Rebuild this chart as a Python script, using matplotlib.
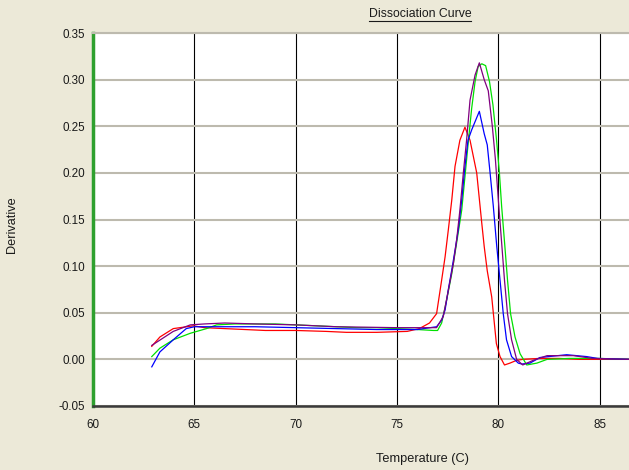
import matplotlib
matplotlib.use("Agg")
import matplotlib.pyplot as plt
from matplotlib.lines import Line2D

# Melt-curve derivative readings (temperature in C, derivative)
red_t = [62.9, 63.3, 63.96, 64.95, 65.5, 66.5, 67.5, 68.5, 70.0, 71.5, 72.5, 74.0, 75.5, 76.1, 76.6,
         76.95, 77.2, 77.37, 77.53, 77.7, 77.86, 78.1, 78.35, 78.6, 78.93, 79.18, 79.3, 79.45, 79.67, 79.9,
         80.08, 80.3, 80.57, 80.9, 81.2, 82.0, 83.0, 84.0, 85.0, 86.5]
red_d = [0.014, 0.024, 0.033, 0.036, 0.034, 0.033, 0.032, 0.031, 0.031, 0.030, 0.029, 0.029, 0.030, 0.033, 0.039,
         0.049, 0.085, 0.110, 0.139, 0.171, 0.207, 0.235, 0.249, 0.235, 0.200, 0.146, 0.121, 0.095, 0.067, 0.017,
         0.003, -0.006, -0.004, -0.001, 0.000, 0.001, 0.001, 0.000, 0.000, 0.000]

green_t = [62.9, 63.3, 63.96, 64.8, 65.6, 66.1, 67.0, 68.0, 69.0, 70.0, 71.0, 72.0, 73.0, 74.0, 75.0,
           76.0, 76.8, 77.0, 77.2, 77.45, 77.7, 77.94, 78.19, 78.35, 78.51, 78.68, 78.85, 79.0, 79.18, 79.37,
           79.56, 79.73, 79.9, 80.05, 80.16, 80.32, 80.45, 80.6, 80.82, 81.07, 81.4, 81.9, 82.4, 83.5, 85.0, 86.5]
green_d = [0.003, 0.012, 0.021, 0.028, 0.033, 0.037, 0.038, 0.038, 0.038, 0.037, 0.036, 0.035, 0.034, 0.034, 0.033,
           0.032, 0.031, 0.031, 0.039, 0.064, 0.092, 0.125, 0.160, 0.196, 0.232, 0.269, 0.298, 0.314, 0.317, 0.315,
           0.298, 0.273, 0.237, 0.200, 0.164, 0.121, 0.085, 0.049, 0.024, 0.006, -0.006, -0.004, 0.000, 0.001, 0.001, 0.000]

blue_t = [62.9, 63.3, 63.96, 64.6, 65.0, 66.0, 67.0, 68.0, 70.0, 72.0, 74.0, 76.0, 76.95, 77.2, 77.37,
          77.53, 77.7, 77.86, 78.02, 78.19, 78.35, 78.5, 78.68, 79.06, 79.3, 79.45, 79.59, 79.75, 79.92, 80.08,
          80.24, 80.4, 80.65, 80.98, 81.15, 81.56, 82.05, 83.37, 84.35, 84.9, 86.5]
blue_d = [-0.008, 0.008, 0.021, 0.033, 0.035, 0.035, 0.035, 0.035, 0.034, 0.033, 0.032, 0.032, 0.035, 0.042, 0.053,
          0.075, 0.096, 0.117, 0.139, 0.171, 0.207, 0.235, 0.246, 0.266, 0.242, 0.230, 0.200, 0.164, 0.121, 0.085,
          0.049, 0.021, 0.003, -0.004, -0.005, -0.004, 0.002, 0.005, 0.003, 0.001, 0.000]

purple_t = [62.9, 63.96, 64.8, 65.5, 66.5, 68.0, 70.0, 72.0, 75.0, 76.5, 76.95, 77.28, 77.53, 77.78, 77.94,
            78.1, 78.27, 78.43, 78.6, 78.85, 79.06, 79.3, 79.5, 79.7, 79.85, 80.0, 80.16, 80.3, 80.45, 80.65,
            80.9, 81.2, 81.72, 82.4, 83.7, 84.67, 86.5]
purple_d = [0.015, 0.030, 0.037, 0.038, 0.039, 0.038, 0.037, 0.035, 0.034, 0.034, 0.034, 0.046, 0.074, 0.103, 0.128,
            0.160, 0.200, 0.235, 0.278, 0.305, 0.318, 0.300, 0.288, 0.250, 0.215, 0.170, 0.125, 0.085, 0.049, 0.021,
            0.000, -0.006, -0.001, 0.004, 0.004, 0.001, 0.000]

x_ticks = [60, 65, 70, 75, 80, 85]
y_ticks = [-0.05, 0.00, 0.05, 0.10, 0.15, 0.20, 0.25, 0.30, 0.35]

BG = "#ECE9D8"
plt.rcParams["font.family"] = ["Liberation Sans", "DejaVu Sans"]

W, H = 629, 470
fig = plt.figure(figsize=(W / 100, H / 100), dpi=100, facecolor=BG)
left, right, top, bottom = 93, 629, 33, 406
ax = fig.add_axes([left / W, 1 - bottom / H, (right - left) / W, (bottom - top) / H])
ax.set_facecolor("white")

ax.set_xlim(60, 60 + (right - left) / 20.27)
ax.set_ylim(-0.05, 0.35)
ax.set_xticks(x_ticks)
ax.set_yticks(y_ticks)
ax.set_yticklabels([f"{v:.2f}" for v in y_ticks])
ax.tick_params(axis="both", length=0, labelsize=8.4, colors="#1a1a1a")
ax.tick_params(axis="y", pad=6)
ax.tick_params(axis="x", pad=9)

ax.set_axisbelow(True)
ax.yaxis.grid(True, color="#BDBAAE", lw=1.5)
ax.xaxis.grid(True, color="black", lw=0.8)

ax.spines["right"].set_visible(False)
ax.spines["top"].set_color("#BDBAAE")
ax.spines["top"].set_linewidth(1.5)
ax.spines["left"].set_color("#2EA02E")
ax.spines["left"].set_linewidth(2.5)
ax.spines["bottom"].set_color("#3a3a3a")
ax.spines["bottom"].set_linewidth(1.8)

ax.plot(red_t, red_d, color="#FF0000", lw=0.9)
ax.plot(green_t, green_d, color="#00E000", lw=0.9)
ax.plot(blue_t, blue_d, color="#0000FF", lw=0.9)
ax.plot(purple_t, purple_d, color="#800080", lw=0.9)

fig.text(423 / W, 1 - 459 / H, "Temperature (C)", ha="center", va="center",
         fontsize=9.2, color="#1a1a1a")
fig.text(12 / W, 1 - 225 / H, "Derivative", ha="center", va="center",
         rotation=90, fontsize=9.2, color="#1a1a1a")
title = fig.text(420 / W, 1 - 14 / H, "Dissociation Curve", ha="center", va="center",
                 fontsize=8.8, color="#1a1a1a")

# underline the heading
fig.canvas.draw()
bb = title.get_window_extent()
uy = (bb.y0 - 0.5) / (H)
fig.add_artist(Line2D([bb.x0 / W, bb.x1 / W], [uy, uy], transform=fig.transFigure,
                      color="#1a1a1a", lw=0.8))

fig.savefig("out.png", dpi=100, facecolor=BG)
